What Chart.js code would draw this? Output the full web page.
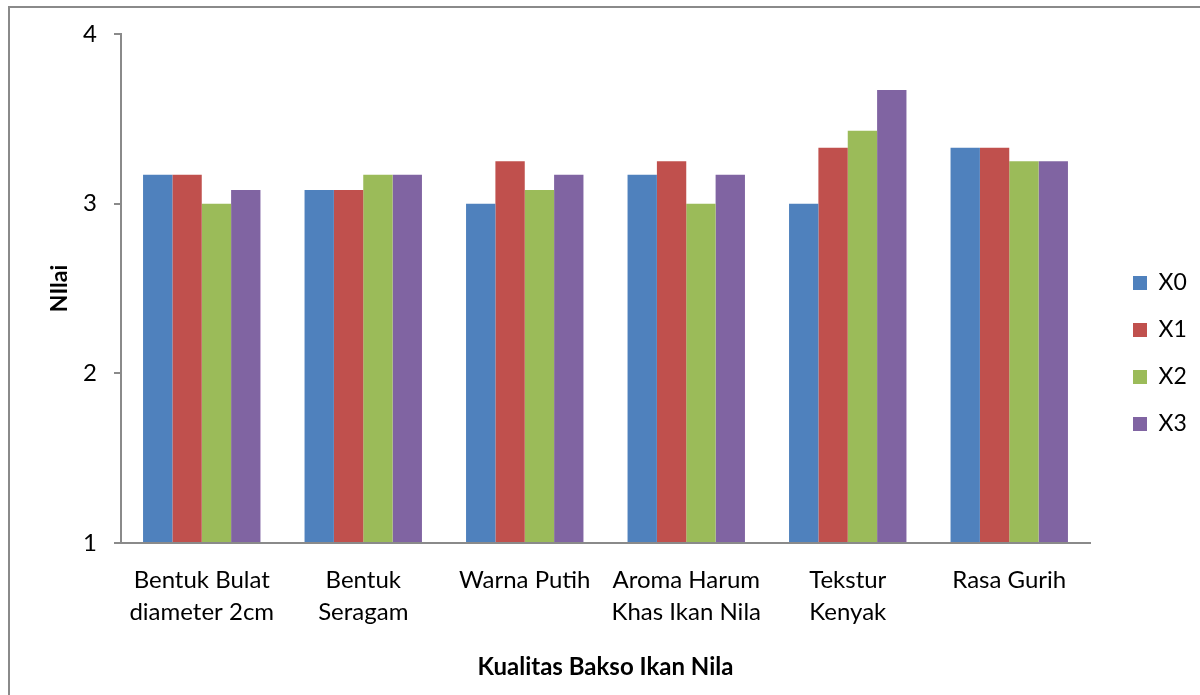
<!DOCTYPE html>
<html>
<head>
<meta charset="utf-8">
<script src="https://cdn.jsdelivr.net/npm/chart.js@4/dist/chart.umd.min.js"></script>
<style>
  html, body { margin: 0; padding: 0; background: #fff; }
  canvas { display: block; }
</style>
</head>
<body>
<canvas id="chart" width="1200" height="695"></canvas>
<script>
Chart.defaults.font.family = 'Lato';
Chart.defaults.color = '#000';

const categories = [
  ['Bentuk Bulat', 'diameter 2cm'],
  ['Bentuk', 'Seragam'],
  ['Warna Putih'],
  ['Aroma Harum', 'Khas Ikan Nila'],
  ['Tekstur', 'Kenyak'],
  ['Rasa Gurih']
];
const seriesNames = ['X0', 'X1', 'X2', 'X3'];
const x0 = [3.17, 3.08, 3.00, 3.17, 3.00, 3.33];
const x1 = [3.17, 3.08, 3.25, 3.25, 3.33, 3.33];
const x2 = [3.00, 3.17, 3.08, 3.00, 3.43, 3.25];
const x3 = [3.08, 3.17, 3.17, 3.17, 3.67, 3.25];
const yTicks = [1, 2, 3, 4];
const colors = ['#4F81BD', '#C0504D', '#9BBB59', '#8064A2'];

// outer frame of the chart object (only left and top edge visible)
const frame = {
  id: 'frame',
  beforeDraw: chart => {
    const ctx = chart.ctx;
    ctx.save();
    ctx.strokeStyle = '#8a8a8a';
    ctx.lineWidth = 2;
    ctx.beginPath();
    ctx.moveTo(9, chart.height);
    ctx.lineTo(9, 7);
    ctx.lineTo(chart.width, 7);
    ctx.stroke();
    ctx.restore();
  }
};

// fixed legend box width, legend items nudged a bit to the right / up
const legendShift = { dx: 19, dy: -7 };
const legendBox = {
  id: 'legendBox',
  beforeUpdate: chart => {
    const lg = chart.legend;
    if (!lg || lg._patched) return;
    const fit = lg.fit, draw = lg.draw;
    lg.fit = function () { fit.call(this); this.width = 100; };
    lg.draw = function () {
      this.left += legendShift.dx; this.top += legendShift.dy; this.bottom += legendShift.dy;
      draw.call(this);
      this.left -= legendShift.dx; this.top -= legendShift.dy; this.bottom -= legendShift.dy;
    };
    lg._patched = true;
  }
};

const chart = new Chart(document.getElementById('chart'), {
  type: 'bar',
  plugins: [frame, legendBox],
  data: {
    labels: categories,
    datasets: [x0, x1, x2, x3].map((d, i) => ({
      label: seriesNames[i],
      data: d,
      backgroundColor: colors[i],
      borderWidth: 0,
      barPercentage: 1,
      categoryPercentage: 0.727,
      base: 1
    }))
  },
  options: {
    responsive: false,
    animation: false,
    devicePixelRatio: 1,
    layout: { padding: { left: 40, top: 34, right: 10, bottom: 8 } },
    plugins: {
      tooltip: { enabled: false },
      legend: {
        position: 'right',
        labels: {
          font: { size: 23 },
          boxWidth: 14,
          boxHeight: 14,
          padding: 24,
          color: '#000'
        }
      }
    },
    scales: {
      x: {
        afterFit: s => { s.height = 152 - 8; },
        grid: { display: false },
        border: { display: true, color: '#8a8a8a', width: 2 },
        ticks: {
          font: { size: 24, lineHeight: 1.33 },
          padding: 13,
          maxRotation: 0,
          autoSkip: false
        },
        title: {
          display: true,
          text: 'Kualitas Bakso Ikan Nila',
          font: { size: 24, weight: 'bold' },
          padding: { top: 0, bottom: 5 }
        }
      },
      y: {
        min: 1,
        max: 4,
        afterFit: s => { s.width = 121 - 40; },
        afterBuildTicks: s => { s.ticks = yTicks.map(v => ({ value: v })); },
        grid: {
          drawOnChartArea: false,
          drawTicks: true,
          tickLength: 7,
          color: '#8a8a8a',
          lineWidth: 2
        },
        border: { display: true, color: '#8a8a8a', width: 2 },
        ticks: {
          font: { size: 24 },
          padding: 17
        },
        title: {
          display: true,
          text: 'NIlai',
          font: { size: 23, weight: 'bold' },
          padding: { top: 6, bottom: 0 }
        }
      }
    }
  }
});
</script>
</body>
</html>
